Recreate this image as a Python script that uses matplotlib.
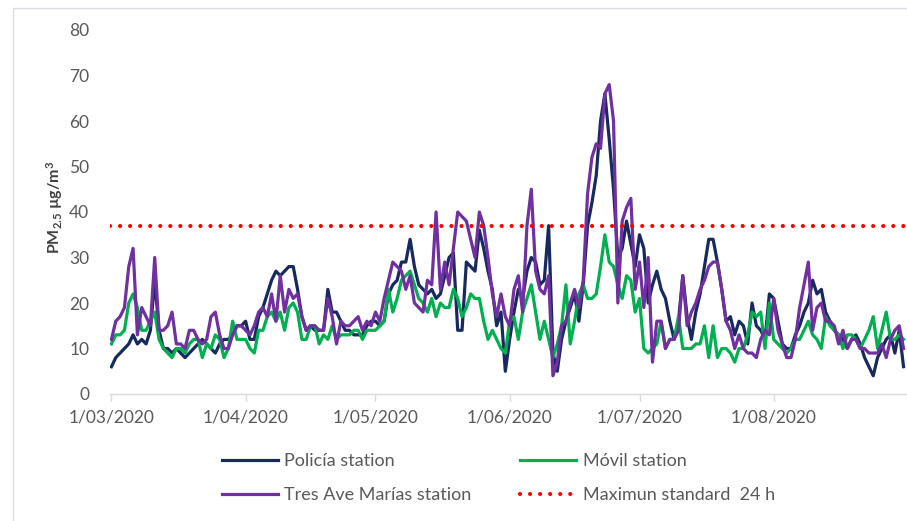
import matplotlib
matplotlib.use("Agg")
import matplotlib.pyplot as plt
import pandas as pd
from matplotlib.patches import Rectangle

plt.rcParams['font.family'] = ['Lato', 'DejaVu Sans']
plt.rcParams['mathtext.fontset'] = 'custom'
plt.rcParams['mathtext.rm'] = 'Lato:bold'
plt.rcParams['mathtext.it'] = 'Lato:bold'

# daily PM2.5 values, 1 March - 31 August 2020
start_date = '2020-03-01'
policia = [6, 8, 9, 10, 11, 13, 11, 12, 11, 14,
           25, 14, 10, 10, 9, 10, 9, 8, 9, 10,
           11, 12, 11, 10, 9, 11, 12, 12, 13, 15, 15,
           16, 12, 12, 17, 19, 22, 25, 27, 26, 27,
           28, 28, 23, 17,
           14, 15, 14, 14, 14, 23, 18, 18, 16, 14, 14, 13, 13, 13, 15, 16,
           16, 15, 16, 22, 24, 25, 29, 29, 34,
           28, 24, 23, 22, 23, 21, 22, 26, 30, 31, 14, 14, 29, 28, 27, 36, 32, 27, 23,
           15, 18, 5, 12, 18, 23, 21, 27, 30, 29, 24, 25, 37, 9, 5, 12, 16, 19, 22, 16,
           24, 37, 42, 48, 60, 66, 56,
           45, 30, 32, 38, 33, 28, 35, 32, 20, 24, 27, 23, 21, 16, 12, 16, 26, 17, 12, 18,
           22, 28, 34, 34, 29, 23, 16, 17, 13, 16, 15, 11, 20, 15, 14, 12, 22, 21, 16, 11,
           10, 10, 13, 15, 18, 20, 25, 22, 23, 18, 16, 14, 13, 12, 10, 12, 13, 11, 8, 6,
           4, 8, 10, 12, 13, 9, 14, 6]
movil = [11, 13, 13, 14, 20, 22, 19, 14, 14, 16, 18, 12, 10, 9, 8, 10, 10, 9, 11, 12, 12, 8, 11,
         10, 13, 12, 8, 10, 16, 12, 12, 12, 10, 9, 14, 14, 17, 18, 16, 18, 14, 19, 20, 18, 12, 12,
         15, 15, 11, 13, 12, 15, 12, 13, 13, 13, 14, 14, 12, 14, 14, 14, 15, 16, 23, 18, 21, 25, 26,
         27, 24, 21, 20, 18, 21, 17, 20, 19, 19, 23, 21, 17, 19, 22, 21, 21, 16, 12, 14, 12, 10, 9,
         16, 17, 12, 18, 21, 24, 18, 12, 16, 12, 8, 11, 15, 24, 11, 16, 22, 24, 21, 21, 22, 28, 35, 29,
         28, 24, 21, 26, 25, 18, 21, 10, 9, 10, 11, 16, 10, 12, 12, 17, 10, 10, 10, 11, 11, 15, 8,
         15, 8, 10, 10, 9, 7, 10, 10, 13, 18, 17, 18, 10, 20, 12, 11, 10, 9, 10, 12, 12, 14, 16,
         13, 12, 10, 17, 15, 14, 13, 10, 13, 13, 12, 10, 12, 14, 17, 10, 14, 18, 12, 12, 13, 12]
tres_ave_marias = [12, 16, 17, 19, 28, 32, 13, 19, 17, 15, 30, 14, 14, 15, 18, 11, 11, 10, 14, 14, 12, 11, 12,
                   17, 18, 13, 10, 10, 13, 15, 15, 14, 13, 15, 18, 19, 17, 22, 16, 26, 18, 23, 21, 22, 17, 14,
                   15, 15, 14, 14, 21, 17, 11, 16, 15, 15, 16, 17, 14, 16, 15, 18, 16, 21, 25, 29, 28, 27, 23,
                   26, 20, 19, 18, 25, 24, 40, 23, 29, 24, 32, 40, 39, 38, 34, 30, 40, 37, 30, 22, 17, 22, 17,
                   15, 23, 26, 18, 37, 45, 27, 23, 22, 26, 4, 7, 15, 16, 20, 23, 19, 25, 44, 52, 55, 54, 66, 68,
                   60, 20, 38, 41, 43, 23, 29, 19, 30, 7, 16, 16, 10, 12, 12, 14, 26, 15, 18, 20, 23, 25, 28,
                   29, 29, 23, 16, 14, 10, 13, 10, 9, 9, 8, 12, 14, 13, 21, 14, 11, 8, 8, 12, 19, 24, 29,
                   14, 19, 20, 16, 16, 15, 11, 14, 10, 12, 12, 10, 10, 9, 9, 9, 11, 8, 12, 14, 15, 10]
max_standard = 37

tick_dates = ['2020-03-01', '2020-04-01', '2020-05-01', '2020-06-01', '2020-07-01', '2020-08-01']
tick_labels = ['1/03/2020', '1/04/2020', '1/05/2020', '1/06/2020', '1/07/2020', '1/08/2020']
y_ticks = [0, 10, 20, 30, 40, 50, 60, 70, 80]

dates = pd.date_range(start_date, periods=len(policia), freq='D')

fig = plt.figure(figsize=(9.07, 5.21), dpi=100)
ax = fig.add_axes([110 / 907, 127 / 521, 797 / 907, 364 / 521])

ax.plot(dates, policia, color='#172A5E', lw=2.3, label='Policía station')
ax.plot(dates, movil, color='#00B050', lw=2.3, label='Móvil station')
ax.plot(dates, tres_ave_marias, color='#7030A0', lw=2.3, label='Tres Ave Marías station')
ax.axhline(max_standard, color='#FF0000', lw=3, linestyle=(0, (0.01, 2.4)),
           dash_capstyle='round', label='Maximun standard  24 h')

ax.set_xlim(dates[0] - pd.Timedelta(hours=8), dates[0] + pd.Timedelta(days=183.8))
ax.set_ylim(0, 80)
ax.set_xticks(pd.to_datetime(tick_dates))
ax.set_xticklabels(tick_labels)
ax.set_yticks(y_ticks)

for s in ['top', 'right', 'left']:
    ax.spines[s].set_visible(False)
ax.spines['bottom'].set_color('#D9D9D9')
ax.spines['bottom'].set_linewidth(1)
ax.tick_params(axis='x', length=5, width=1, color='#D9D9D9', pad=6,
               labelsize=12.5, labelcolor='#595959')
ax.tick_params(axis='y', length=0, pad=15, labelsize=12.5, labelcolor='#595959')

fig.text(55 / 907, 1 - 207 / 521, 'PM$_{2.5}$ µg/m$^3$', rotation=90,
         ha='center', va='center', fontsize=11.5, fontweight='bold', color='#404040')

h, l = ax.get_legend_handles_labels()
order = [0, 2, 1, 3]
ax.legend([h[i] for i in order], [l[i] for i in order], ncol=2, frameon=False,
          loc='upper left', bbox_to_anchor=(222 / 907, 1 - 453 / 521),
          bbox_transform=fig.transFigure, borderpad=0, borderaxespad=0,
          handlelength=3.1, handletextpad=0.35, columnspacing=2.7,
          labelspacing=1.0, fontsize=13, labelcolor='#595959')

fig.patches.append(Rectangle((13 / 907, -0.02), 1.0, (521 - 8) / 521 + 0.02,
                             transform=fig.transFigure, fill=False,
                             edgecolor='#D9DDE3', lw=1))

fig.savefig('out.png', dpi=100)
